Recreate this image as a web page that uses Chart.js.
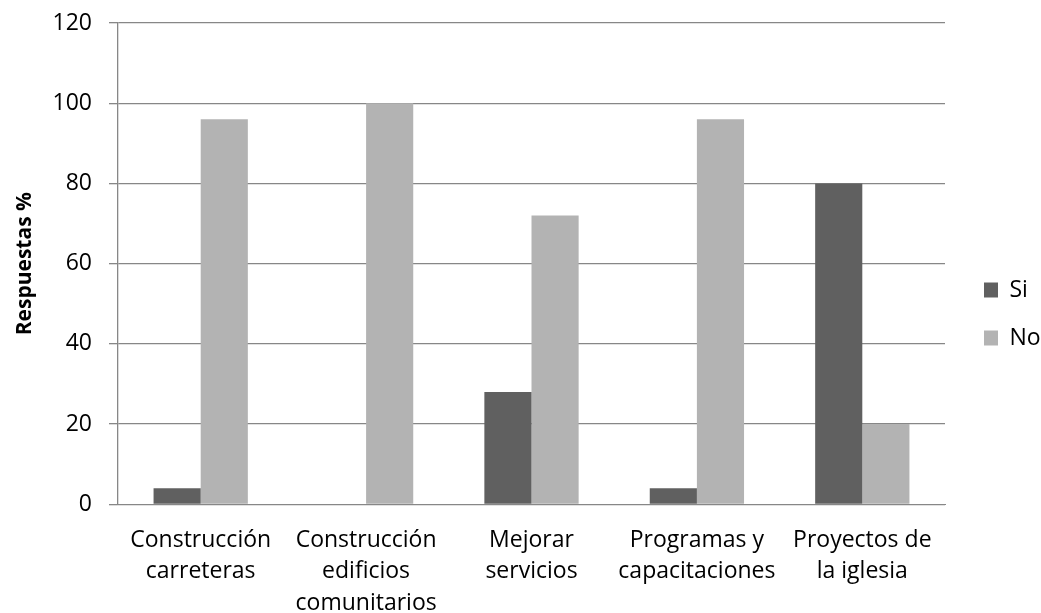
<!DOCTYPE html>
<html>
<head>
<meta charset="utf-8">
<script src="https://cdn.jsdelivr.net/npm/chart.js@4/dist/chart.umd.min.js"></script>
<style>
    html, body { margin: 0; padding: 0; background: #ffffff; }
    #wrap { width: 1041px; height: 613px; position: relative; }
</style>
</head>
<body>
<div id="wrap"><canvas id="respuestas-chart"></canvas></div>
<script>
// Data
var categories = [
    ['Construcción', 'carreteras'],
    ['Construcción', 'edificios', 'comunitarios'],
    ['Mejorar', 'servicios'],
    ['Programas y', 'capacitaciones'],
    ['Proyectos de', 'la iglesia']
];
var siValues = [4, 0, 28, 4, 80];
var noValues = [96, 100, 72, 96, 20];
var seriesNames = ['Si', 'No'];
var yTitle = 'Respuestas %';

(function() {
    'use strict';

    var gridColor = '#878787';
    var fontFamily = '"Open Sans", "Liberation Sans", sans-serif';

    // Keep the legend narrow and nudge it right, like the original
    var legendPlacement = {
        id: 'legendPlacement',
        afterInit: function(chart) {
            var lg = chart.legend;
            if (lg && !lg._patched) {
                var origFit = lg.fit.bind(lg);
                lg.fit = function() {
                    origFit();
                    this.width = 96;
                };
                lg._patched = true;
            }
        },
        afterLayout: function(chart) {
            var lg = chart.legend;
            if (lg) {
                lg.left = chart.chartArea.right + 14;
                lg.right = lg.left + lg.width;
                lg.top -= 4;
                lg.bottom -= 4;
            }
        }
    };

    var ctx = document.getElementById('respuestas-chart').getContext('2d');

    new Chart(ctx, {
        type: 'bar',
        data: {
            labels: categories,
            datasets: [
                {
                    label: seriesNames[0],
                    data: siValues,
                    backgroundColor: '#606060',
                    borderWidth: 0
                },
                {
                    label: seriesNames[1],
                    data: noValues,
                    backgroundColor: '#b3b3b3',
                    borderWidth: 0
                }
            ]
        },
        options: {
            responsive: true,
            maintainAspectRatio: false,
            animation: false,
            categoryPercentage: 0.57,
            barPercentage: 1.0,
            layout: {
                padding: { top: 23, right: 0, bottom: 0, left: 0 }
            },
            plugins: {
                legend: {
                    position: 'right',
                    labels: {
                        color: '#000000',
                        boxWidth: 14,
                        boxHeight: 15,
                        padding: 25,
                        font: { family: fontFamily, size: 23 }
                    }
                },
                tooltip: { enabled: false }
            },
            scales: {
                x: {
                    grid: { display: false },
                    border: { display: true, color: gridColor, width: 1 },
                    ticks: {
                        color: '#000000',
                        padding: 12,
                        maxRotation: 0,
                        autoSkip: false,
                        font: { family: fontFamily, size: 23, lineHeight: 1.37 }
                    },
                    afterFit: function(scale) {
                        scale.height = 108.7;
                    }
                },
                y: {
                    min: 0,
                    max: 120,
                    ticks: {
                        stepSize: 20,
                        color: '#000000',
                        padding: 17,
                        font: { family: fontFamily, size: 23 }
                    },
                    grid: {
                        color: gridColor,
                        lineWidth: 1.3,
                        tickLength: 9,
                        tickColor: gridColor
                    },
                    border: { display: true, color: gridColor, width: 1.3 },
                    title: {
                        display: true,
                        text: yTitle,
                        color: '#000000',
                        padding: { top: 12, bottom: 0 },
                        font: { family: fontFamily, size: 21, weight: 'bold' }
                    },
                    afterFit: function(scale) {
                        scale.width = 118;
                        // let the layout padding alone decide where the plot starts
                        scale.paddingTop = 0;
                    }
                }
            }
        },
        plugins: [legendPlacement]
    });
})();
</script>
</body>
</html>
